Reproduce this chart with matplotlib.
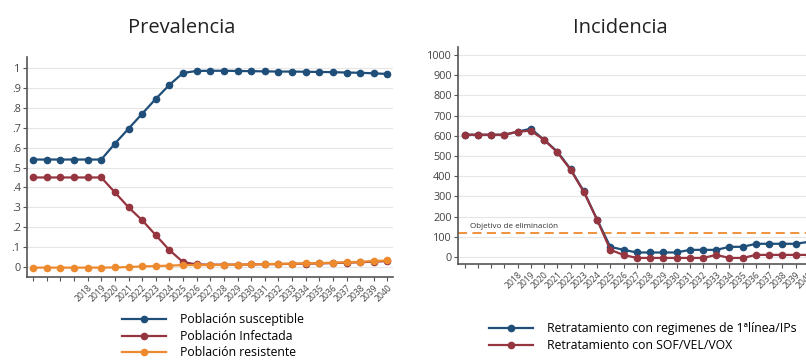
import numpy as np
import matplotlib.pyplot as plt

plt.rcParams['font.family'] = ['Open Sans', 'DejaVu Sans']

# etiquetas del eje x (los 4 primeros puntos sin etiqueta)
years = ['', '', '', ''] + [str(y) for y in range(2018, 2041)]

# Prevalencia
susceptible = [0.54, 0.54, 0.54, 0.54, 0.54, 0.54, 0.62, 0.695, 0.77, 0.845, 0.915, 0.975,
               0.985, 0.986, 0.986, 0.985, 0.984, 0.983, 0.982, 0.982, 0.981, 0.98, 0.979,
               0.977, 0.976, 0.973, 0.97]
infectada = [0.45, 0.45, 0.45, 0.45, 0.45, 0.45, 0.375, 0.30, 0.235, 0.16, 0.085, 0.025,
             0.013, 0.012, 0.012, 0.012, 0.013, 0.014, 0.015, 0.016, 0.017, 0.018, 0.02,
             0.022, 0.024, 0.027, 0.03]
resistente = [-0.003, -0.003, -0.003, -0.003, -0.003, -0.003, -0.002, 0.0, 0.003, 0.005,
              0.007, 0.01, 0.01, 0.01, 0.011, 0.012, 0.013, 0.014, 0.016, 0.017, 0.018,
              0.02, 0.022, 0.024, 0.026, 0.03, 0.033]

# Incidencia
retrat_1linea = [605, 605, 605, 605, 620, 635, 580, 522, 435, 325, 185, 50, 35, 22, 22, 22,
                 22, 35, 35, 35, 50, 50, 65, 65, 65, 65, 75]
retrat_sof = [605, 605, 605, 605, 620, 625, 580, 518, 432, 322, 185, 35, 10, -5, -5, -5,
              -5, -5, -5, 10, -5, -5, 10, 10, 10, 10, 10]
objetivo = 120

navy = '#1f4e79'
maroon = '#953540'
orange = '#ee8a2e'
axcol = '#555555'

fig = plt.figure(figsize=(8.06, 3.6), dpi=100)
x = np.arange(len(years))

def style(ax):
    for s in ['top', 'right']:
        ax.spines[s].set_visible(False)
    for s in ['left', 'bottom']:
        ax.spines[s].set_color(axcol)
        ax.spines[s].set_linewidth(1.2)
    ax.yaxis.grid(True, color='#e6e6e6', linewidth=0.8)
    ax.set_axisbelow(True)
    ax.tick_params(axis='both', colors=axcol, labelcolor='#444444', length=3, width=0.8)
    ax.tick_params(axis='y', labelsize=7.8, pad=1.5)
    ax.tick_params(axis='x', pad=1.5)
    ax.set_xticks(x)
    ax.set_xticklabels(years, rotation=45, ha='right', rotation_mode='anchor', fontsize=6.2)

# ---- Prevalencia ----
ax1 = fig.add_axes([0.0335, 0.2306, 0.454, 0.611])
kw = dict(marker='o', markersize=4.5, linewidth=1.6)
ax1.plot(x, susceptible, color=navy, label='Población susceptible', **kw)
ax1.plot(x, infectada, color=maroon, label='Población Infectada', **kw)
ax1.plot(x, resistente, color=orange, label='Población resistente', **kw)
ax1.set_xlim(-0.45, 26.4)
ax1.set_ylim(-0.05, 1.055)
yt = np.round(np.arange(0, 1.01, 0.1), 1)
ax1.set_yticks(yt)
ax1.set_yticklabels(['0'] + ['.%d' % int(round(v * 10)) for v in yt[1:-1]] + ['1'])
style(ax1)
fig.text(182 / 806, 1 - 28 / 360, 'Prevalencia', ha='center', va='center', fontsize=14.5,
         color='#222222')
fig.legend(*ax1.get_legend_handles_labels(), loc='upper left',
           bbox_to_anchor=(116 / 806, 1 - 307 / 360), frameon=False, fontsize=8.8,
           handlelength=3.6, handletextpad=1.1, labelspacing=0.3, borderpad=0)

# ---- Incidencia ----
ax2 = fig.add_axes([0.5682, 0.2667, 0.4437, 0.603])
ax2.plot(x, retrat_1linea, color=navy, label='Retratamiento con regimenes de 1ªlínea/IPs', **kw)
ax2.plot(x, retrat_sof, color=maroon, label='Retratamiento con SOF/VEL/VOX', **kw)
ax2.axhline(objetivo, color=orange, linestyle=(0, (5, 3)), linewidth=1.3, zorder=1)
ax2.text(0.4, objetivo + 22, 'Objetivo de eliminación', fontsize=5.8, color='#333333')
ax2.set_xlim(-0.5, 26.5)
ax2.set_ylim(-35, 1040)
ax2.set_yticks(np.arange(0, 1001, 100))
style(ax2)
fig.text(620 / 806, 1 - 28 / 360, 'Incidencia', ha='center', va='center', fontsize=14.5,
         color='#222222')
fig.legend(*ax2.get_legend_handles_labels(), loc='upper left',
           bbox_to_anchor=(483 / 806, 1 - 316 / 360), frameon=False, fontsize=8.8,
           handlelength=3.6, handletextpad=1.1, labelspacing=0.3, borderpad=0)

fig.savefig('out.png', dpi=100)
